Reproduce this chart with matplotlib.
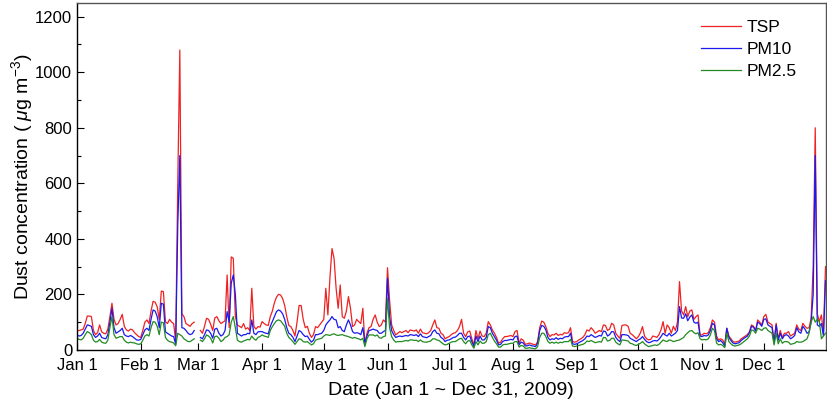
import numpy as np
import pandas as pd
import matplotlib
matplotlib.use('Agg')
import matplotlib.pyplot as plt
import matplotlib.dates as mdates
from matplotlib.ticker import MultipleLocator

nan = np.nan

# daily values, Jan 1 .. Dec 31 2009 (ug/m3)
tsp = [
    # Jan
    68, 70, 72, 75, 95, 122, 122, 120, 70, 55, 62, 90, 65, 60, 58, 75, 120, 168, 110, 90,
    95, 110, 128, 85, 72, 68, 75, 72, 62, 55, 48,
    # Feb
    45, 70, 100, 108, 95, 140, 175, 172, 155, 110, 212, 210, 102, 95, 110, 100, 95, 30, 600, 1080,
    130, 120, 95, 90, 85, 95, 100, nan,
    # Mar
    nan, 70, 60, 85, 114, 110, 92, 70, 115, 120, 105, 95, 100, 105, 270, 80, 335, 330, 120, 90,
    85, 80, 95, 75, 80, 70, 222, 85, 75, 84, 82,
    # Apr
    102, 95, 90, 88, 120, 140, 170, 190, 200, 198, 185, 160, 120, 88, 84, 70, 50, 100, 160, 160,
    110, 80, 85, 60, 45, 55, 84, 80, 90, 100,
    # May
    110, 222, 126, 260, 365, 330, 222, 150, 234, 120, 114, 140, 192, 150, 84, 90, 110, 102, 95, 150,
    20, 60, 80, 84, 110, 126, 100, 84, 90, 108, 100,
    # Jun
    296, 180, 90, 70, 54, 60, 66, 62, 66, 70, 62, 72, 70, 68, 72, 60, 75, 62, 60, 58,
    62, 70, 90, 108, 80, 78, 60, 55, 40, 45,
    # Jul
    48, 55, 60, 62, 70, 84, 110, 60, 48, 65, 68, 40, 18, 70, 40, 68, 50, 48, 60, 102,
    90, 72, 60, 45, 24, 28, 40, 48, 48, 50, 52,
    # Aug
    48, 66, 70, 24, 40, 35, 20, 22, 25, 22, 20, 18, 30, 80, 104, 100, 84, 60, 48, 55,
    54, 60, 52, 56, 54, 62, 60, 62, 80, 30, 28,
    # Sep
    30, 36, 40, 45, 55, 72, 68, 80, 72, 60, 65, 70, 66, 90, 88, 70, 75, 96, 90, 60,
    50, 42, 88, 90, 90, 85, 60, 55, 48, 40,
    # Oct
    48, 62, 84, 50, 40, 36, 38, 50, 48, 45, 55, 72, 102, 60, 90, 80, 60, 85, 70, 100,
    246, 140, 126, 156, 120, 140, 144, 110, 120, 126, 54,
    # Nov
    54, 60, 58, 62, 80, 108, 100, 50, 36, 40, 36, 20, 78, 50, 40, 30, 28, 30, 32, 40,
    45, 50, 55, 65, 90, 85, 70, 108, 100, 90,
    # Dec
    120, 128, 100, 95, 90, 30, 96, 40, 70, 45, 60, 60, 66, 50, 55, 60, 90, 75, 70, 96,
    85, 78, 80, 114, 300, 800, 130, 102, 126, 60, 300,
]

pm10 = [
    # Jan
    54, 50, 52, 60, 75, 90, 88, 85, 55, 45, 50, 60, 45, 42, 40, 55, 100, 150, 80, 60,
    65, 70, 78, 55, 50, 48, 52, 48, 42, 36, 35,
    # Feb
    38, 55, 72, 78, 70, 110, 144, 140, 120, 80, 168, 165, 65, 60, 55, 50, 48, 20, 450, 700,
    80, 78, 70, 60, 55, 58, 70, nan,
    # Mar
    nan, 45, 40, 55, 72, 70, 60, 42, 75, 78, 60, 50, 55, 70, 138, 100, 240, 270, 200, 60,
    55, 50, 55, 55, 60, 58, 108, 60, 55, 65, 66,
    # Apr
    66, 62, 60, 58, 85, 102, 120, 138, 144, 140, 130, 110, 80, 60, 55, 45, 30, 50, 70, 65,
    55, 48, 50, 38, 28, 35, 55, 55, 58, 60,
    # May
    70, 90, 100, 108, 120, 110, 108, 80, 84, 70, 66, 90, 108, 90, 66, 60, 62, 60, 55, 80,
    25, 50, 70, 72, 75, 72, 70, 60, 60, 66, 70,
    # Jun
    258, 120, 70, 55, 45, 48, 50, 48, 50, 52, 50, 55, 54, 52, 55, 48, 58, 48, 46, 44,
    48, 52, 66, 72, 60, 58, 45, 40, 30, 35,
    # Jul
    36, 40, 45, 46, 52, 60, 60, 45, 36, 48, 50, 30, 12, 50, 30, 50, 36, 36, 45, 84,
    80, 60, 48, 35, 18, 20, 30, 34, 34, 36, 38,
    # Aug
    36, 48, 50, 18, 28, 25, 14, 15, 18, 15, 14, 12, 24, 70, 88, 85, 72, 45, 36, 40,
    38, 44, 38, 42, 40, 46, 48, 48, 60, 22, 20,
    # Sep
    22, 26, 30, 34, 40, 50, 48, 55, 50, 45, 48, 52, 50, 68, 66, 50, 55, 66, 65, 45,
    36, 30, 55, 55, 54, 52, 42, 38, 34, 30,
    # Oct
    36, 40, 48, 38, 30, 26, 28, 32, 34, 32, 38, 48, 60, 54, 50, 60, 50, 55, 60, 70,
    156, 115, 114, 130, 105, 118, 126, 100, 96, 100, 50,
    # Nov
    48, 52, 50, 54, 70, 96, 90, 40, 30, 34, 26, 14, 78, 45, 34, 25, 22, 24, 26, 34,
    40, 45, 50, 62, 85, 82, 68, 100, 95, 85,
    # Dec
    110, 112, 90, 85, 80, 25, 90, 35, 60, 40, 52, 55, 50, 40, 45, 52, 80, 65, 60, 85,
    75, 60, 65, 100, 200, 700, 90, 85, 95, 50, 250,
]

pm25 = [
    # Jan
    42, 38, 36, 42, 55, 66, 62, 55, 35, 28, 30, 38, 28, 25, 24, 35, 80, 120, 55, 42,
    45, 48, 48, 35, 28, 25, 28, 26, 25, 22, 20,
    # Feb
    22, 35, 50, 55, 50, 80, 102, 100, 85, 55, 100, 98, 45, 35, 30, 28, 25, 15, 60, 55,
    50, 40, 35, 30, 30, 35, 40, nan,
    # Mar
    nan, 35, 30, 40, 54, 50, 42, 25, 48, 50, 42, 30, 35, 45, 48, 55, 100, 120, 80, 35,
    30, 28, 32, 35, 38, 36, 50, 40, 35, 45, 48,
    # Apr
    54, 50, 48, 45, 70, 84, 95, 105, 108, 105, 95, 85, 60, 45, 38, 30, 20, 30, 40, 38,
    30, 28, 30, 24, 18, 22, 35, 38, 40, 42,
    # May
    50, 55, 54, 52, 56, 58, 54, 52, 54, 55, 52, 50, 48, 45, 42, 45, 42, 40, 36, 42,
    12, 40, 54, 54, 54, 50, 54, 44, 42, 48, 50,
    # Jun
    186, 80, 48, 36, 28, 30, 30, 30, 32, 34, 32, 36, 36, 34, 35, 30, 36, 30, 28, 28,
    30, 32, 40, 40, 36, 34, 28, 22, 18, 20,
    # Jul
    24, 28, 30, 30, 35, 40, 42, 30, 22, 32, 34, 18, 6, 30, 18, 32, 24, 24, 30, 55,
    60, 45, 32, 22, 10, 10, 18, 20, 20, 22, 24,
    # Aug
    24, 30, 30, 10, 16, 14, 6, 6, 8, 6, 5, 4, 12, 45, 60, 60, 48, 30, 24, 28,
    24, 28, 24, 28, 26, 30, 30, 30, 38, 14, 12,
    # Sep
    14, 16, 18, 20, 24, 32, 30, 34, 30, 26, 28, 30, 28, 45, 44, 32, 34, 42, 42, 28,
    22, 18, 36, 35, 34, 32, 24, 22, 18, 16,
    # Oct
    20, 24, 30, 22, 16, 12, 14, 16, 18, 16, 20, 28, 36, 32, 30, 36, 34, 30, 32, 34,
    36, 40, 45, 55, 62, 68, 70, 62, 58, 62, 40,
    # Nov
    36, 38, 36, 40, 54, 78, 70, 25, 18, 20, 16, 8, 60, 30, 22, 16, 14, 16, 18, 22,
    28, 34, 40, 50, 72, 70, 60, 78, 75, 70,
    # Dec
    78, 80, 70, 65, 60, 18, 60, 22, 40, 24, 30, 30, 28, 20, 22, 24, 30, 28, 28, 30,
    35, 40, 60, 100, 120, 100, 110, 102, 40, 50, 60,
]

dates = pd.date_range('2009-01-01', periods=len(tsp), freq='D')

plt.rcParams['font.family'] = ['Liberation Sans', 'DejaVu Sans']
plt.rcParams['mathtext.fontset'] = 'custom'
plt.rcParams['mathtext.rm'] = 'Liberation Sans'
plt.rcParams['mathtext.it'] = 'Liberation Sans:italic'

fig = plt.figure(figsize=(8.28, 4.05), dpi=100)
ax = fig.add_axes([0.093, 0.136, 0.904, 0.857])

ax.plot(dates, tsp, color='#ee2222', lw=0.9, label='TSP')
ax.plot(dates, pm10, color='#1a1aee', lw=0.9, label='PM10')
ax.plot(dates, pm25, color='#228b22', lw=0.9, label='PM2.5')

ax.set_xlim(pd.Timestamp('2009-01-01'), pd.Timestamp('2009-12-31'))
ax.set_ylim(0, 1250)
ax.yaxis.set_major_locator(MultipleLocator(200))
ax.yaxis.set_minor_locator(MultipleLocator(100))
ax.xaxis.set_major_locator(mdates.MonthLocator())
ax.xaxis.set_major_formatter(mdates.DateFormatter('%b 1'))

ax.tick_params(axis='both', which='major', direction='in', length=5, width=0.8, labelsize=12)
ax.tick_params(axis='x', which='major', pad=6)
ax.tick_params(axis='both', which='minor', direction='in', length=3, width=0.8)

for s in ax.spines.values():
    s.set_linewidth(1.0)
ax.spines['top'].set_color('#555555')
ax.spines['right'].set_color('#555555')

ax.set_xlabel('Date (Jan 1 ~ Dec 31, 2009)', fontsize=14, labelpad=6)
ax.set_ylabel(r'Dust concentration ( $\mathit{\mu}$g m$^{-3}$)', fontsize=14, labelpad=0)

leg = ax.legend(loc='upper right', frameon=False, fontsize=12.5, handlelength=2.3,
                handletextpad=0.35, labelspacing=0.4, borderaxespad=0.3,
                bbox_to_anchor=(0.978, 0.987))

fig.savefig('out.png', dpi=100)
